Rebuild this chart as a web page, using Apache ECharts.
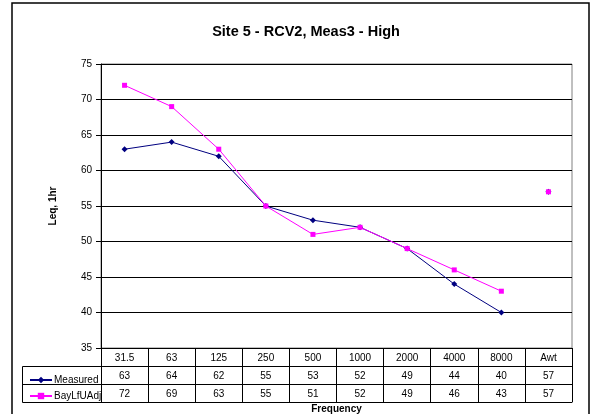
<!DOCTYPE html>
<html><head><meta charset="utf-8">
<script src="https://cdn.jsdelivr.net/npm/echarts@6/dist/echarts.min.js"></script>
<style>html,body{margin:0;padding:0;background:#fff}#c{width:593px;height:414px}</style>
</head><body><div id="c"></div>
<script>
const categories = ['31.5','63','125','250','500','1000','2000','4000','8000','Awt'];
const measured = [63,64,62,55,53,52,49,44,40,57];
const bayLfUAdj = [72,69,63,55,51,52,49,46,43,57];
const yTicks = {min:35, max:75, interval:5};

const lineM = measured.map((v,i)=> i<9 ? v : null);
const lineB = bayLfUAdj.map((v,i)=> i<9 ? v : null);
const ptM = measured.map((v,i)=> i===9 ? v : null);
const ptB = bayLfUAdj.map((v,i)=> i===9 ? v : null);

const font = 'Liberation Sans, Arial, sans-serif';
const chart = echarts.init(document.getElementById('c'));
const baseX = {
  type:'category', data:categories, gridIndex:0, position:'bottom', boundaryGap:true,
  axisLine:{show:true, lineStyle:{color:'#000', width:1}},
  splitLine:{show:false}
};
chart.setOption({
  animation:false,
  backgroundColor:'#fff',
  title:{text:'Site 5 - RCV2, Meas3 - High', left:301, textAlign:'center', top:19,
    textStyle:{fontFamily:font, fontSize:14.5, fontWeight:'bold', color:'#000'}},
  legend:{orient:'vertical', left:24, top:370, itemGap:6, itemWidth:22, itemHeight:8,
    textStyle:{fontFamily:font, fontSize:10, color:'#000', padding:[0,0,0,-3]},
    data:['Measured','BayLfUAdj']},
  grid:{left:101, right:21, top:64, bottom:66, outerBoundsMode:'none', containLabel:false,
    show:true, borderColor:'#808080', borderWidth:1, backgroundColor:'#fff'},
  xAxis:[
    Object.assign({}, baseX, {
      axisTick:{show:true, interval:0, length:54, inside:false, lineStyle:{color:'#000'}},
      axisLabel:{interval:0, margin:5, fontFamily:font, fontSize:10, color:'#000'},
      name:'Frequency', nameLocation:'middle', nameGap:56,
      nameTextStyle:{fontFamily:font, fontSize:10, fontWeight:'bold', color:'#000'}
    }),
    Object.assign({}, baseX, {offset:18, axisTick:{show:false},
      axisLabel:{interval:0, margin:5, fontFamily:font, fontSize:10, color:'#000', formatter:(v,i)=>String(measured[i])}}),
    Object.assign({}, baseX, {offset:36, axisTick:{show:false},
      axisLabel:{interval:0, margin:5, fontFamily:font, fontSize:10, color:'#000', formatter:(v,i)=>String(bayLfUAdj[i])}}),
    Object.assign({}, baseX, {offset:54, axisTick:{show:false}, axisLabel:{show:false}})
  ],
  yAxis:{type:'value', min:yTicks.min, max:yTicks.max, interval:yTicks.interval,
    name:'Leq, 1hr', nameLocation:'middle', nameGap:43,
    nameTextStyle:{fontFamily:font, fontSize:10, fontWeight:'bold', color:'#000'},
    axisLine:{show:true, lineStyle:{color:'#000'}},
    axisTick:{show:true, length:5, lineStyle:{color:'#000'}},
    axisLabel:{fontFamily:font, fontSize:10, color:'#000', margin:9},
    splitLine:{show:true, lineStyle:{color:'#000', width:1}}},
  series:[
    {name:'Measured', type:'line', data:lineM, xAxisIndex:0, symbol:'diamond', symbolSize:6,
      lineStyle:{color:'#000080', width:1}, itemStyle:{color:'#000080'}, z:3},
    {name:'BayLfUAdj', type:'line', data:lineB, xAxisIndex:0, symbol:'rect', symbolSize:5,
      lineStyle:{color:'#FF00FF', width:1}, itemStyle:{color:'#FF00FF'}, z:4},
    {name:'Measured', type:'line', data:ptM, xAxisIndex:0, symbol:'diamond', symbolSize:6,
      showSymbol:true, lineStyle:{width:0}, itemStyle:{color:'#000080'}, z:3},
    {name:'BayLfUAdj', type:'line', data:ptB, xAxisIndex:0, symbol:'rect', symbolSize:5,
      showSymbol:true, lineStyle:{width:0}, itemStyle:{color:'#FF00FF'}, z:4}
  ],
  graphic:[
    {type:'rect', shape:{x:12, y:3, width:577, height:420}, style:{fill:'none', stroke:'#000', lineWidth:1.5}, silent:true},
    {type:'rect', shape:{x:22.5, y:366.5, width:79, height:36}, style:{fill:'none', stroke:'#000', lineWidth:1}, silent:true},
    {type:'line', shape:{x1:22.5, y1:384.5, x2:101, y2:384.5}, style:{stroke:'#000', lineWidth:1}, silent:true}
  ]
});
</script></body></html>
